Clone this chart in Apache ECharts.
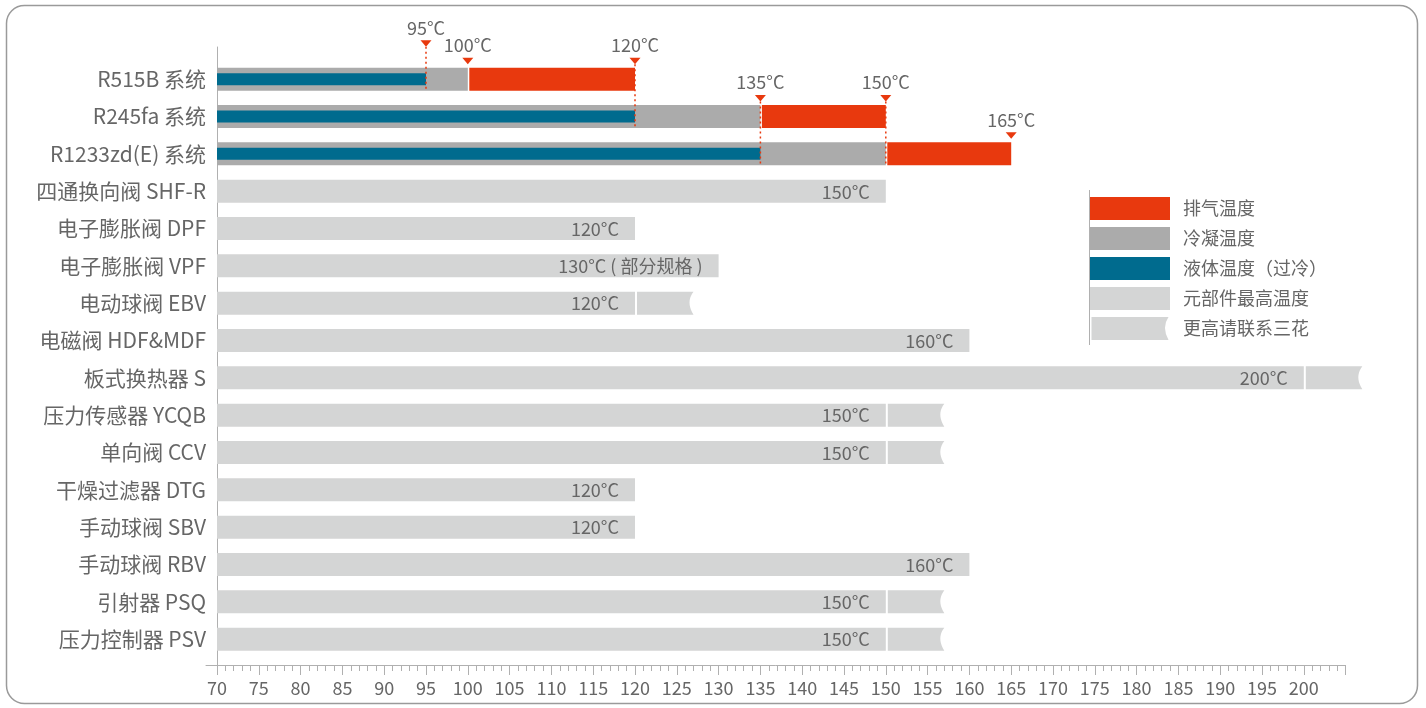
<!DOCTYPE html>
<html>
<head>
<meta charset="utf-8">
<script src="https://cdn.jsdelivr.net/npm/echarts@6/dist/echarts.min.js"></script>
<style>
  html, body { margin: 0; padding: 0; background: #fff; }
  #chart { width: 1426px; height: 708px; }
</style>
</head>
<body>
<div id="chart"></div>
<script>
// ---------------- data ----------------
const refrigerants = ['R515B 系统', 'R245fa 系统', 'R1233zd(E) 系统'];
const liquidTemp = [95, 120, 135];       // 液体温度（过冷）
const condensingTemp = [100, 135, 150];  // 冷凝温度
const exhaustTemp = [120, 150, 165];     // 排气温度

const components = ['四通换向阀 SHF-R', '电子膨胀阀 DPF', '电子膨胀阀 VPF', '电动球阀 EBV', '电磁阀 HDF&MDF',
  '板式换热器 S', '压力传感器 YCQB', '单向阀 CCV', '干燥过滤器 DTG', '手动球阀 SBV', '手动球阀 RBV',
  '引射器 PSQ', '压力控制器 PSV'];
const componentMax = [150, 120, 130, 120, 160, 200, 150, 150, 120, 120, 160, 150, 150];
const componentExt = [null, null, null, 127, null, 207, 157, 157, null, null, null, 157, 157];
const componentNote = ['', '', ' ( 部分规格 )', '', '', '', '', '', '', '', '', '', ''];

const xMin = 70, xMax = 205, xInterval = 5, lastTickLabel = 200;

const legendNames = ['排气温度', '冷凝温度', '液体温度（过冷）', '元部件最高温度', '更高请联系三花'];

// ---------------- style ----------------
const RED = '#e8390e', GRAY = '#ababab', BLUE = '#006b8e', LIGHT = '#d4d5d5';
const TXT = '#666666', AXIS = '#b0b0b0';
const FONT = '"Noto Sans CJK SC", "Noto Sans", sans-serif';
const BAR_H = 23, INNER_H = 12;

const categories = refrigerants.concat(components);
const nRef = refrigerants.length;

// ---------------- series data ----------------
const condData = condensingTemp.map((v, i) => [i, xMin, v]);
const liqData = liquidTemp.map((v, i) => [i, xMin, v]);
const exhData = exhaustTemp.map((v, i) => [i, condensingTemp[i], v]);
const compData = componentMax.map((v, i) => [nRef + i, xMin, v, i]);
const extData = [];
componentExt.forEach((v, i) => { if (v != null) extData.push([nRef + i, componentMax[i], v]); });

// markers: each temperature at the first refrigerant row where it appears
const markerData = [];
const seen = {};
for (let i = 0; i < nRef; i++) {
  [['liquid', liquidTemp[i]], ['cond', condensingTemp[i]], ['exh', exhaustTemp[i]]].forEach(([kind, v]) => {
    if (seen[v]) return;
    seen[v] = true;
    let endRow = -1, rowsWith = 0, isLiquid = false;
    for (let j = 0; j < nRef; j++) {
      if (liquidTemp[j] === v || condensingTemp[j] === v || exhaustTemp[j] === v) { rowsWith++; endRow = j; }
      if (liquidTemp[j] === v) isLiquid = true;
    }
    if (!(isLiquid || rowsWith > 1)) endRow = -1;
    markerData.push([i, v, kind === 'liquid' ? 1 : 0, endRow]);
  });
}

// ---------------- render helpers ----------------
function barRender(color, h) {
  return function (params, api) {
    const row = api.value(0);
    const p0 = api.coord([api.value(1), row]);
    const p1 = api.coord([api.value(2), row]);
    return { type: 'rect', shape: { x: p0[0], y: p0[1] - h / 2, width: p1[0] - p0[0], height: h }, style: { fill: color } };
  };
}
function exhRender(params, api) {
  const row = api.value(0);
  const p0 = api.coord([api.value(1), row]);
  const p1 = api.coord([api.value(2), row]);
  const x0 = p0[0] + 1.5;
  return { type: 'rect', shape: { x: x0, y: p0[1] - BAR_H / 2, width: p1[0] - x0, height: BAR_H }, style: { fill: RED } };
}
function compRender(params, api) {
  const row = api.value(0);
  const idx = api.value(3);
  const p0 = api.coord([api.value(1), row]);
  const p1 = api.coord([api.value(2), row]);
  return {
    type: 'group',
    children: [
      { type: 'rect', shape: { x: p0[0], y: p0[1] - BAR_H / 2, width: p1[0] - p0[0], height: BAR_H }, style: { fill: LIGHT } },
      { type: 'text', style: { text: componentMax[idx] + '°C' + componentNote[idx], x: p1[0] - 16, y: p0[1] + 0.5,
          align: 'right', verticalAlign: 'middle', fill: TXT, fontSize: 18, fontFamily: FONT } }
    ]
  };
}
function extRender(params, api) {
  const row = api.value(0);
  const p0 = api.coord([api.value(1), row]);
  const p1 = api.coord([api.value(2), row]);
  const x0 = p0[0] + 2, x1 = p1[0];
  const yT = p0[1] - BAR_H / 2, yB = p0[1] + BAR_H / 2;
  const pts = [[x0, yT], [x1, yT]];
  const N = 10;
  for (let k = 1; k < N; k++) {
    const t = k / N;
    const cx = x1 - 8, cy = yT + BAR_H * 0.45;
    const x = (1 - t) * (1 - t) * x1 + 2 * (1 - t) * t * cx + t * t * x1;
    const y = (1 - t) * (1 - t) * yT + 2 * (1 - t) * t * cy + t * t * yB;
    pts.push([x, y]);
  }
  pts.push([x1, yB], [x0, yB]);
  return { type: 'polygon', shape: { points: pts }, style: { fill: LIGHT } };
}
function markerRender(params, api) {
  const row = api.value(0), v = api.value(1), raised = api.value(2), endRow = api.value(3);
  const p = api.coord([v, row]);
  const triBottom = p[1] - BAR_H / 2 - 3.5 - raised * 17.5;
  const triH = 6.5, triW = 11;
  const children = [];
  if (endRow >= 0) {
    const pe = api.coord([v, endRow]);
    children.push({ type: 'line', shape: { x1: p[0], y1: triBottom, x2: p[0], y2: pe[1] + BAR_H / 2 + 1 },
      style: { stroke: RED, lineWidth: 1.5, lineDash: [2, 3] } });
  }
  children.push({ type: 'polygon', shape: { points: [[p[0] - triW / 2, triBottom - triH], [p[0] + triW / 2, triBottom - triH], [p[0], triBottom]] },
    style: { fill: RED } });
  children.push({ type: 'text', style: { text: v + '°C', x: p[0], y: triBottom - triH - 12.5, align: 'center', verticalAlign: 'middle',
    fill: TXT, fontSize: 18, fontFamily: FONT } });
  return { type: 'group', children };
}

// ---------------- chart ----------------
const chart = echarts.init(document.getElementById('chart'), null, { renderer: 'canvas' });
const GRID_LEFT = 217, GRID_W = 1128.6;

chart.setOption({
  animation: false,
  backgroundColor: '#fff',
  textStyle: { fontFamily: FONT },
  grid: [
    { left: GRID_LEFT, top: 60.5, width: GRID_W, height: 597.3 },
    { left: GRID_LEFT, top: 47, width: GRID_W, height: 618 },
    { left: 206, top: 47, width: GRID_W + GRID_LEFT - 206, height: 618 }
  ],
  xAxis: [
    { gridIndex: 0, type: 'value', min: xMin, max: xMax, show: false },
    { gridIndex: 1, type: 'value', min: xMin, max: xMax, interval: xInterval,
      axisLine: { show: false, onZero: false },
      axisTick: { show: true, length: 10, lineStyle: { color: AXIS } },
      minorTick: { show: true, splitNumber: 5, length: 6, lineStyle: { color: AXIS } },
      splitLine: { show: false }, minorSplitLine: { show: false },
      axisLabel: { color: TXT, fontSize: 18, margin: 14, fontFamily: FONT,
        formatter: v => (v > lastTickLabel ? '' : String(v)) } },
    { gridIndex: 2, type: 'value', min: 0, max: 1,
      axisLine: { show: true, onZero: false, lineStyle: { color: AXIS, width: 1 } },
      axisTick: { show: false }, axisLabel: { show: false }, splitLine: { show: false } }
  ],
  yAxis: [
    { gridIndex: 0, type: 'category', data: categories, inverse: true,
      axisLine: { show: false }, axisTick: { show: false }, splitLine: { show: false },
      axisLabel: { color: TXT, fontSize: 21, margin: 11, fontFamily: FONT } },
    { gridIndex: 1, type: 'value', min: 0, max: 1,
      axisLine: { show: true, onZero: false, lineStyle: { color: AXIS, width: 1 } },
      axisTick: { show: false }, axisLabel: { show: false }, splitLine: { show: false } },
    { gridIndex: 2, type: 'value', min: 0, max: 1, show: false }
  ],
  legend: {
    orient: 'vertical', left: 1090, top: 197, itemWidth: 80, itemHeight: 23, itemGap: 7,
    selectedMode: false, padding: 0,
    textStyle: { color: TXT, fontSize: 18, fontFamily: FONT, padding: [0, 0, 0, 8] },
    data: [
      { name: legendNames[0], icon: 'rect' },
      { name: legendNames[1], icon: 'rect' },
      { name: legendNames[2], icon: 'rect' },
      { name: legendNames[3], icon: 'rect' },
      { name: legendNames[4], icon: 'path://M0,0L77,0Q70,10,77,23L0,23Z' }
    ]
  },
  graphic: [
    { type: 'rect', silent: true, shape: { x: 6.5, y: 5.5, width: 1411, height: 698, r: 18 },
      style: { fill: 'none', stroke: '#9a9a9a', lineWidth: 1.5 } },
    { type: 'line', silent: true, shape: { x1: 1089.5, y1: 190, x2: 1089.5, y2: 345 },
      style: { stroke: AXIS, lineWidth: 1 } }
  ],
  series: [
    { name: legendNames[1], type: 'custom', xAxisIndex: 0, yAxisIndex: 0, renderItem: barRender(GRAY, BAR_H),
      itemStyle: { color: GRAY }, encode: { x: [1, 2], y: 0 }, data: condData, z: 2 },
    { name: legendNames[2], type: 'custom', xAxisIndex: 0, yAxisIndex: 0, renderItem: barRender(BLUE, INNER_H),
      itemStyle: { color: BLUE }, encode: { x: [1, 2], y: 0 }, data: liqData, z: 3 },
    { name: legendNames[0], type: 'custom', xAxisIndex: 0, yAxisIndex: 0, renderItem: exhRender,
      itemStyle: { color: RED }, encode: { x: [1, 2], y: 0 }, data: exhData, z: 3 },
    { name: legendNames[3], type: 'custom', xAxisIndex: 0, yAxisIndex: 0, renderItem: compRender,
      itemStyle: { color: LIGHT }, encode: { x: [1, 2], y: 0 }, data: compData, z: 2 },
    { name: legendNames[4], type: 'custom', xAxisIndex: 0, yAxisIndex: 0, renderItem: extRender,
      itemStyle: { color: LIGHT }, encode: { x: [1, 2], y: 0 }, data: extData, z: 2 },
    { name: 'markers', type: 'custom', xAxisIndex: 0, yAxisIndex: 0, renderItem: markerRender,
      encode: { x: 1, y: 0 }, data: markerData, z: 5, silent: true }
  ]
});
</script>
</body>
</html>
